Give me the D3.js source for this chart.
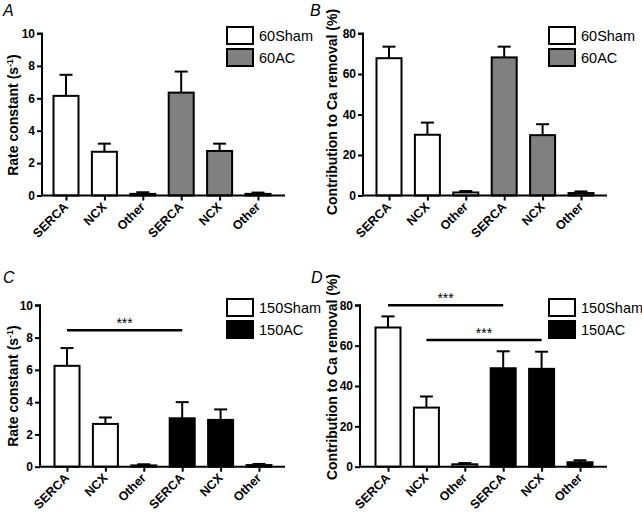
<!DOCTYPE html>
<html><head><meta charset="utf-8">
<script src="https://cdn.jsdelivr.net/npm/d3@7"></script>
<style>body{margin:0;background:#fff}svg{display:block}text{font-family:"Liberation Sans",Arial,sans-serif}</style>
</head><body><svg id="c" width="642" height="513"></svg>
<script>
const categories = ["SERCA","NCX","Other","SERCA","NCX","Other"];
const groupOf = [0,0,0,1,1,1];
const rateTicks = [0,2,4,6,8,10];
const pctTicks = [0,20,40,60,80];
// Panel A: 60Sham / 60AC rate constants
const aMean = [6.15,2.7,0.1,6.35,2.75,0.1];
const aErr  = [7.45,3.2,0.2,7.65,3.2,0.18];
// Panel B: contribution %
const bMean = [67.8,30,1.5,68.2,29.8,1.2];
const bErr  = [73.5,36,2.2,73.5,35.2,2.0];
// Panel C: 150Sham / 150AC rate constants
const cMean = [6.25,2.65,0.08,3.0,2.9,0.1];
const cErr  = [7.35,3.05,0.15,4.0,3.55,0.17];
// Panel D: contribution %
const dMean = [69,29.3,1.2,48.8,48.5,2.2];
const dErr  = [74.5,34.8,1.8,57.2,57.0,3.2];
const legend60 = ["60Sham","60AC"];
const legend150 = ["150Sham","150AC"];
const sigC = [{from:0,to:3,at:8.45}];
const sigD = [{from:0,to:3,at:80},{from:1,to:4,at:62.8}];

const svg = d3.select("#c");

function panel(o){
  const g = svg.append("g");
  const y = d3.scaleLinear().domain([0,o.max]).range([o.y0,o.yTop]);
  const x = d3.scalePoint().domain(d3.range(6)).range([o.c0,o.c1]);
  const bw = 25;
  o.mean.forEach((m,i)=>{
    const cx = x(i);
    g.append("line").attr("x1",cx).attr("x2",cx).attr("y1",y(m)).attr("y2",y(o.err[i]))
      .attr("stroke","#000").attr("stroke-width",2);
    g.append("line").attr("x1",cx-6.5).attr("x2",cx+6.5).attr("y1",y(o.err[i])).attr("y2",y(o.err[i]))
      .attr("stroke","#000").attr("stroke-width",2);
    g.append("rect").attr("x",cx-bw/2).attr("width",bw).attr("y",y(m)).attr("height",y(0)-y(m))
      .attr("fill",o.fills[groupOf[i]]).attr("stroke","#000").attr("stroke-width",2);
  });
  const ya = g.append("g").attr("transform",`translate(${o.ax},0)`)
    .call(d3.axisLeft(y).tickValues(o.ticks).tickSize(5).tickPadding(2).tickFormat(d3.format("d")));
  ya.select(".domain").attr("stroke-width",2).attr("d",`M-5,${o.yTop}H0V${o.y0}`);
  ya.selectAll(".tick line").attr("stroke-width",2);
  ya.selectAll("text").attr("font-size",12).attr("font-weight","bold").attr("fill","#000");
  const xa = g.append("g").attr("transform",`translate(0,${o.y0})`)
    .call(d3.axisBottom(x).tickSize(5).tickFormat(""));
  xa.select(".domain").attr("stroke-width",2).attr("d",`M${o.ax},0H${o.xEnd}`);
  xa.selectAll(".tick line").attr("stroke-width",2);
  categories.forEach((c,i)=>{
    g.append("text").attr("transform",`translate(${x(i)+3},${o.y0+12}) rotate(-45)`)
      .attr("text-anchor","end").attr("font-size",12.5).attr("font-weight","bold").text(c);
  });
  const t = g.append("text").attr("transform",`translate(${o.tx},${o.ty}) rotate(-90)`)
    .attr("text-anchor","middle").attr("font-size",14).attr("font-weight","bold");
  if(o.pct){ t.text("Contribution to Ca removal (%)"); }
  else { t.append("tspan").text("Rate constant (s"); t.append("tspan").attr("dy",-5).attr("font-size",9).text("-1");
    t.append("tspan").attr("dy",5).text(")"); }
  g.append("text").attr("x",o.lx).attr("y",o.ly).attr("font-size",16).attr("font-style","italic").text(o.label);
  o.legend.forEach((s,k)=>{
    const ly = o.legY + k*22;
    g.append("rect").attr("x",o.legX).attr("y",ly).attr("width",26).attr("height",17)
      .attr("fill",o.fills[k]).attr("stroke","#000").attr("stroke-width",2);
    g.append("text").attr("x",o.legX+32).attr("y",ly+14).attr("font-size",14.5).text(s);
  });
  (o.sig||[]).forEach(s=>{
    g.append("line").attr("x1",x(s.from)).attr("x2",x(s.to)).attr("y1",y(s.at)).attr("y2",y(s.at))
      .attr("stroke","#000").attr("stroke-width",2.5);
    g.append("text").attr("x",(x(s.from)+x(s.to))/2).attr("y",y(s.at)-2).attr("text-anchor","middle")
      .attr("font-size",14).text("***");
  });
}

panel({mean:aMean,err:aErr,max:10,ticks:rateTicks,y0:195.5,yTop:33.5,ax:42,xEnd:285,c0:66,c1:258,
  fills:["#fff","#808080"],tx:18,ty:115,lx:3,ly:16,label:"A",legend:legend60,legX:227,legY:27});
panel({mean:bMean,err:bErr,max:80,ticks:pctTicks,pct:true,y0:195.5,yTop:33.5,ax:363,xEnd:607,c0:389,c1:581,
  fills:["#fff","#808080"],tx:337,ty:112,lx:310,ly:16,label:"B",legend:legend60,legX:549,legY:27});
panel({mean:cMean,err:cErr,max:10,ticks:rateTicks,y0:466.7,yTop:305.3,ax:40,xEnd:285,c0:67,c1:259,
  fills:["#fff","#000"],tx:18,ty:386,lx:3,ly:283,label:"C",legend:legend150,legX:227,legY:299,sig:sigC});
panel({mean:dMean,err:dErr,max:80,ticks:pctTicks,pct:true,y0:466.7,yTop:305.3,ax:360,xEnd:607,c0:388,c1:580,
  fills:["#fff","#000"],tx:337,ty:377,lx:311,ly:283,label:"D",legend:legend150,legX:549,legY:299,sig:sigD});
</script></body></html>
